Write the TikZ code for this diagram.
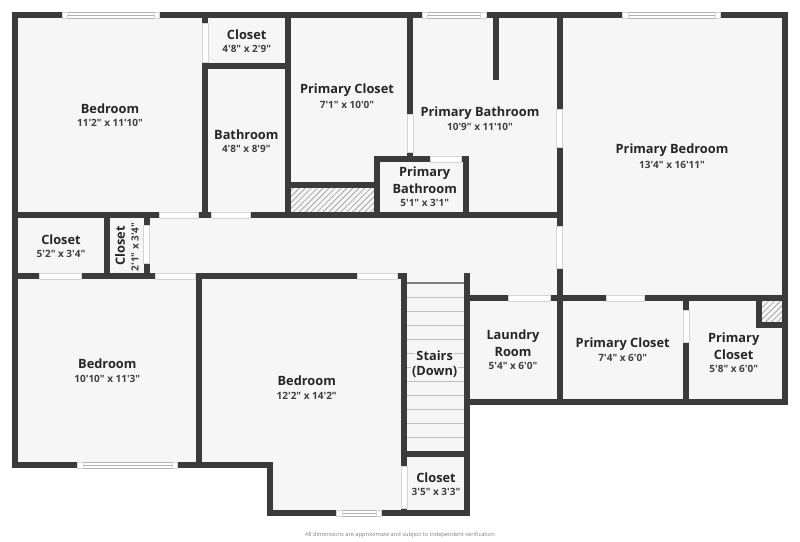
\documentclass[tikz,border=0pt]{standalone}
\usepackage{fontspec}
\usepackage{xcolor}
\usepackage{tikz}
\usetikzlibrary{patterns.meta}
\newfontfamily\planfont{Open Sans}
\definecolor{wallgray}{HTML}{3B3B3B}
\definecolor{floorgray}{HTML}{F6F6F6}
\definecolor{edgegray}{HTML}{D4D4D4}
\definecolor{treadgray}{HTML}{BDBDBD}
\pgfdeclarelayer{edgelayer}
\pgfdeclarelayer{nodelayer}
\pgfsetlayers{edgelayer,main,nodelayer}
\tikzstyle{wall}=[draw=wallgray,line width=6pt,line cap=rect]
\tikzstyle{floor}=[fill=floorgray,draw=none]
\tikzstyle{shaft}=[fill=white,pattern={Lines[angle=45,distance=4.2pt,line width=.8pt]},pattern color=gray!70]
\tikzstyle{door}=[fill=white,draw=edgegray,line width=.5pt]
\tikzstyle{pane}=[fill=white,draw=gray!60,line width=.6pt]
\tikzstyle{paneend}=[fill=white,draw=edgegray,line width=.5pt]
\tikzstyle{tread}=[draw=treadgray,line width=.9pt]
\tikzstyle{rail}=[draw=gray,line width=1.1pt]
\tikzstyle{room}=[inner sep=0pt,yshift=-.7pt,font=\planfont\bfseries\fontsize{12.8}{12.8}\selectfont,text=black!85]
\tikzstyle{size}=[inner sep=0pt,yshift=-.9pt,font=\planfont\bfseries\fontsize{10}{10}\selectfont,text=black!75]
\tikzstyle{onstairs}=[room,fill=floorgray,inner sep=1pt]
\tikzstyle{note}=[inner sep=0pt,font=\planfont\fontsize{5.7}{5.7}\selectfont,text=gray]

\begin{document}
\begin{tikzpicture}[x=1pt,y=-1pt]
	\useasboundingbox (0,0) rectangle (800,541);
	\begin{pgfonlayer}{edgelayer}
		\fill [style=floor] (15,15) -- (785,15) -- (785,402) -- (466,402) -- (466,513) -- (270,513) -- (270,465) -- (15,465) -- cycle;
		\fill [style=shaft] (288,185) rectangle (377,215);
		\fill [style=shaft] (759,298) rectangle (785,325);
		\draw [style=rail] (407,283) to (464,283);
		\draw [style=tread] (407,297.3) to (464,297.3);
		\draw [style=tread] (407,311.3) to (464,311.3);
		\draw [style=tread] (407,325.3) to (464,325.3);
		\draw [style=tread] (407,339.3) to (464,339.3);
		\draw [style=tread] (407,353.3) to (464,353.3);
		\draw [style=tread] (407,367.3) to (464,367.3);
		\draw [style=tread] (407,381.3) to (464,381.3);
		\draw [style=tread] (407,395.3) to (464,395.3);
		\draw [style=tread] (407,409.3) to (464,409.3);
		\draw [style=tread] (407,423.3) to (464,423.3);
		\draw [style=tread] (407,437.3) to (464,437.3);
	\end{pgfonlayer}

	% outer shell
	\draw [style=wall] (15.3,15.3) to (784.7,15.3);
	\draw [style=wall] (15.3,15.3) to (15.3,465.3);
	\draw [style=wall] (784.7,15.3) to (784.7,402);
	\draw [style=wall] (15.3,465.3) to (269.7,465.3);
	\draw [style=wall] (269.7,465.3) to (269.7,513.3);
	\draw [style=wall] (269.7,513.3) to (466.7,513.3);
	\draw [style=wall] (466.7,402) to (784.7,402);
	\draw [style=wall] (466.7,276) to (466.7,513.3);

	% inside walls
	\draw [style=wall] (15.3,215.3) to (559.7,215.3);
	\draw [style=wall] (15.3,276) to (404,276);
	\draw [style=wall] (466.7,298.3) to (784.7,298.3);
	\draw [style=wall] (559.7,15.3) to (559.7,402);
	\draw [style=wall] (205,15.3) to (205,215.3);
	\draw [style=wall] (205,66.3) to (288.3,66.3);
	\draw [style=wall] (288.3,15.3) to (288.3,215.3);
	\draw [style=wall] (288.3,185) to (377,185);
	\draw [style=wall] (377,159) to (377,215.3);
	\draw [style=wall] (377,159) to (466.3,159);
	\draw [style=wall] (466.3,159) to (466.3,215.3);
	\draw [style=wall] (410.3,15.3) to (410.3,159);
	\draw [style=wall] (496,15.3) to (496,77);
	\draw [style=wall] (106.7,215.3) to (106.7,276);
	\draw [style=wall] (146.7,215.3) to (146.7,276);
	\draw [style=wall] (199.3,276) to (199.3,465.3);
	\draw [style=wall] (404,276) to (404,513.3);
	\draw [style=wall] (404,453.7) to (466.7,453.7);
	\draw [style=wall] (686.3,298.3) to (686.3,402);
	\draw [style=wall] (759,298.3) to (759,324.7);
	\draw [style=wall] (759,324.7) to (784.7,324.7);

	% doors
	\filldraw [style=door] (159.3,212.3) rectangle (198.3,218.3);
	\filldraw [style=door] (211,212.3) rectangle (250,218.3);
	\filldraw [style=door] (39.7,273) rectangle (81,279);
	\filldraw [style=door] (155.7,273) rectangle (195.3,279);
	\filldraw [style=door] (357.3,273) rectangle (397.3,279);
	\filldraw [style=door] (508.7,295.3) rectangle (550.7,301.3);
	\filldraw [style=door] (606.3,295.3) rectangle (644.3,301.3);
	\filldraw [style=door] (430.3,156) rectangle (461,162);
	\filldraw [style=door] (202,23) rectangle (208,62.3);
	\filldraw [style=door] (143.7,225) rectangle (149.7,263);
	\filldraw [style=door] (407.3,114) rectangle (413.3,152);
	\filldraw [style=door] (556.7,109.3) rectangle (562.7,147.7);
	\filldraw [style=door] (556.7,226.7) rectangle (562.7,268.7);
	\filldraw [style=door] (683.3,310) rectangle (689.3,342.3);
	\filldraw [style=door] (401,466.7) rectangle (407,508.3);

	% windows
	\filldraw [style=pane] (62.3,12.5) rectangle (159.3,17.8);
	\draw [style=pane] (62.3,15.2) to (159.3,15.2);
	\filldraw [style=paneend] (62.3,12.3) rectangle (67.6,18);
	\filldraw [style=paneend] (154,12.3) rectangle (159.3,18);
	\filldraw [style=pane] (422.3,12.5) rectangle (486,17.8);
	\draw [style=pane] (422.3,15.2) to (486,15.2);
	\filldraw [style=paneend] (422.3,12.3) rectangle (427.6,18);
	\filldraw [style=paneend] (480.7,12.3) rectangle (486,18);
	\filldraw [style=pane] (622.7,12.5) rectangle (720.3,17.8);
	\draw [style=pane] (622.7,15.2) to (720.3,15.2);
	\filldraw [style=paneend] (622.7,12.3) rectangle (628,18);
	\filldraw [style=paneend] (715,12.3) rectangle (720.3,18);
	\filldraw [style=pane] (77.7,462.5) rectangle (177.7,468);
	\draw [style=pane] (77.7,465.3) to (177.7,465.3);
	\filldraw [style=paneend] (77.7,462.3) rectangle (83,468.3);
	\filldraw [style=paneend] (172.4,462.3) rectangle (177.7,468.3);
	\filldraw [style=pane] (336.7,510.5) rectangle (381.3,516);
	\draw [style=pane] (336.7,513.3) to (381.3,513.3);
	\filldraw [style=paneend] (336.7,510.3) rectangle (342,516.3);
	\filldraw [style=paneend] (376,510.3) rectangle (381.3,516.3);

	\begin{pgfonlayer}{nodelayer}
		\node [style=room] (bedroomA) at (110,108) {Bedroom};
		\node [style=size] (bedroomAsize) at (110,122.5) {11'2" x 11'10"};
		\node [style=room] (closetA) at (246.7,33.7) {Closet};
		\node [style=size] (closetAsize) at (246.7,48) {4'8" x 2'9"};
		\node [style=room] (bathroom) at (246.3,133.7) {Bathroom};
		\node [style=size] (bathroomsize) at (246.3,148) {4'8" x 8'9"};
		\node [style=room] (pcloset) at (347,89.5) {Primary Closet};
		\node [style=size] (pclosetsize) at (347,103.7) {7'1" x 10'0"};
		\node [style=room] (pbath) at (480,112) {Primary Bathroom};
		\node [style=size] (pbathsize) at (480,126.3) {10'9" x 11'10"};
		\node [style=room] (pbed) at (672,149) {Primary Bedroom};
		\node [style=size] (pbedsize) at (672,164) {13'4" x 16'11"};
		\node [style=room] (pbathBa) at (424.7,172) {Primary};
		\node [style=room] (pbathBb) at (424.7,188) {Bathroom};
		\node [style=size] (pbathBsize) at (424.7,202.5) {5'1" x 3'1"};
		\node [style=room] (closetB) at (61,238.5) {Closet};
		\node [style=size] (closetBsize) at (61,253) {5'2" x 3'4"};
		\node [style=room,rotate=90] (closetC) at (120,245.3) {Closet};
		\node [style=size,rotate=90] (closetCsize) at (135,246) {2'1" x 3'4"};
		\node [style=room] (bedroomB) at (107.3,363) {Bedroom};
		\node [style=size] (bedroomBsize) at (107.3,378) {10'10" x 11'3"};
		\node [style=room] (bedroomC) at (306.7,380) {Bedroom};
		\node [style=size] (bedroomCsize) at (306.7,394.5) {12'2" x 14'2"};
		\node [style=onstairs] (stairsa) at (434.7,354.5) {Stairs};
		\node [style=onstairs] (stairsb) at (434.7,371) {(Down)};
		\node [style=room] (laundrya) at (513,335) {Laundry};
		\node [style=room] (laundryb) at (513,351) {Room};
		\node [style=size] (laundrysize) at (513,365.5) {5'4" x 6'0"};
		\node [style=room] (pclosetB) at (622.7,343) {Primary Closet};
		\node [style=size] (pclosetBsize) at (622.7,357.5) {7'4" x 6'0"};
		\node [style=room] (pclosetCa) at (733.7,338) {Primary};
		\node [style=room] (pclosetCb) at (733.7,354) {Closet};
		\node [style=size] (pclosetCsize) at (733.7,368.5) {5'8" x 6'0"};
		\node [style=room] (closetD) at (436,477) {Closet};
		\node [style=size] (closetDsize) at (436,491.5) {3'5" x 3'3"};
		\node [style=note] (disclaimer) at (400,534.7) {All dimensions are approximate and subject to independent verification};
	\end{pgfonlayer}
\end{tikzpicture}
\end{document}
